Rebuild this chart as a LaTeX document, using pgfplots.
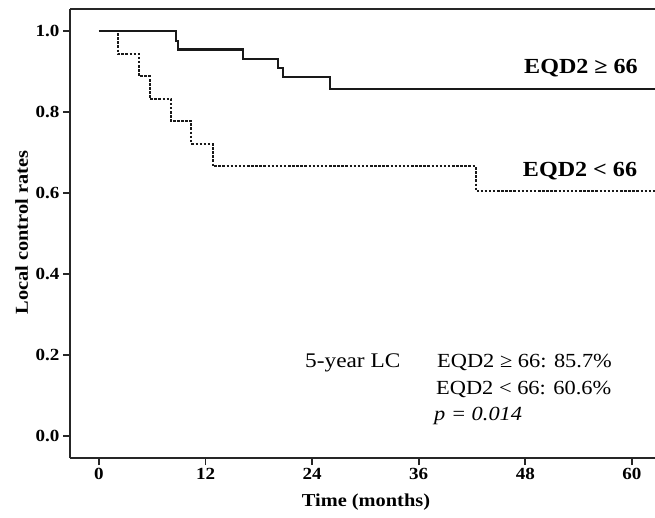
\documentclass[border=0pt]{standalone}
\usepackage{fontspec}
\setmainfont{Liberation Serif}[FakeStretch=1.12]
\usepackage{pgfplots}
\pgfplotsset{compat=1.18}

\begin{document}
\begin{tikzpicture}
\begin{axis}[
    scale only axis,
    width=585bp, height=449bp,
    xmin=-3.26, xmax=62.6,
    ymin=-0.054, ymax=1.055,
    axis lines=left,
    axis line style={-, line width=1.7bp, black!85},
    tick align=outside,
    major tick length=7bp,
    tick style={line width=1.7bp, black!85},
    xtick={0,12,24,36,48,60},
    ytick={0,0.2,0.4,0.6,0.8,1.0},
    /pgf/number format/assume math mode=true,
    ticklabel style={font=\fontsize{17bp}{20bp}\selectfont\bfseries},
    yticklabel style={/pgf/number format/.cd, fixed, fixed zerofill, precision=1},
]
% frame line along the top
\draw[line width=1.7bp, black!85] (rel axis cs:0,1) -- (rel axis cs:1,1);

% EQD2 >= 66
\addplot[const plot, line width=2.1bp, black!90] coordinates {
(0,1.000) (8.67,0.977) (8.93,0.955) (16.2,0.932) (20.2,0.909)
(20.7,0.886) (26.0,0.857) (62.6,0.857)
};
% EQD2 < 66
\addplot[const plot, line width=2bp, black!90, dash pattern=on 2.5bp off 1.6bp] coordinates {
(0,1.000) (2.1,0.944) (4.5,0.889) (5.7,0.833) (8.1,0.778)
(10.4,0.722) (12.8,0.667) (42.4,0.606) (62.6,0.606)
};
\end{axis}

\begin{scope}[every node/.style={inner sep=0pt}]
\node[anchor=base, font=\fontsize{21.5bp}{25bp}\selectfont\bfseries] at (511bp,384.7bp) {EQD2 ≥ 66};
\node[anchor=base, font=\fontsize{21.5bp}{25bp}\selectfont\bfseries] at (510bp,281.3bp) {EQD2 < 66};
\node[anchor=base west, font=\fontsize{20.8bp}{24bp}\selectfont] at (235bp,90bp) {5-year LC};
\node[anchor=base west, font=\fontsize{20bp}{24bp}\selectfont] at (367bp,90bp) {EQD2 ≥ 66: 85.7\%};
\node[anchor=base west, font=\fontsize{20bp}{24bp}\selectfont] at (366bp,63bp) {EQD2 < 66: 60.6\%};
\node[anchor=base west, font=\fontsize{20bp}{24bp}\selectfont\itshape] at (364bp,38bp) {p = 0.014};
\node[anchor=base, font=\fontsize{18.2bp}{22bp}\selectfont\bfseries] at (296bp,-48bp) {Time (months)};
\node[anchor=base, rotate=90, font=\fontsize{18.2bp}{22bp}\selectfont\bfseries] at (-42bp,225.5bp) {Local control rates};
\end{scope}

\pgfresetboundingbox
\path[use as bounding box] (-70bp,-60bp) rectangle (585bp,458bp);
\end{tikzpicture}
\end{document}
